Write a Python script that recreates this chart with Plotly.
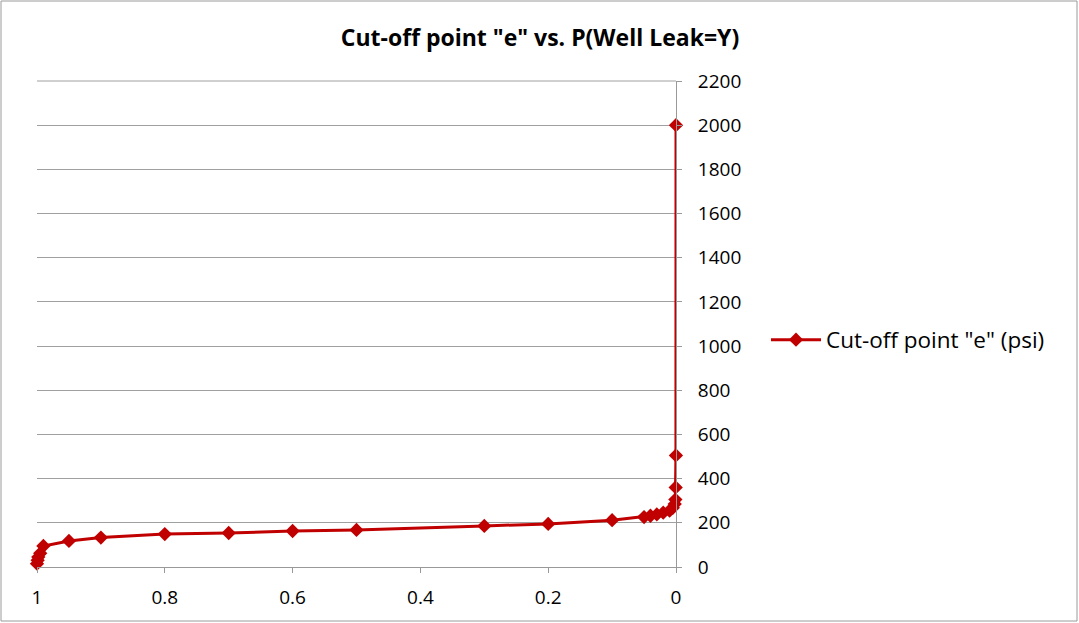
import plotly.graph_objects as go

p_leak = [1.0, 0.999, 0.998, 0.995, 0.99, 0.95, 0.9, 0.8, 0.7, 0.6, 0.5, 0.3, 0.2, 0.1,
          0.05, 0.04, 0.03, 0.02, 0.01, 0.005, 0.002, 0.001, 0.0005, 0.0001, 0.0]
cutoff_e = [15, 30, 45, 62, 95, 118, 133, 149, 154, 163, 168, 186, 195, 212,
            226, 232, 238, 246, 255, 268, 285, 305, 360, 505, 2000]

x_ticks = [1, 0.8, 0.6, 0.4, 0.2, 0]
x_labels = ["1", "0.8", "0.6", "0.4", "0.2", "0"]
y_ticks = list(range(0, 2201, 200))

red = "#C00000"
font_family = "Open Sans, Liberation Sans, sans-serif"

fig = go.Figure()
fig.add_trace(go.Scatter(
    x=p_leak, y=cutoff_e, mode="lines+markers",
    name='Cut-off point "e" (psi)',
    line=dict(color=red, width=3),
    marker=dict(symbol="diamond", size=11, color=red),
    cliponaxis=False,
))

L, R, T, B = 37, 403, 81, 56
W, H = 1079, 623
pw, ph = W - L - R, H - T - B

fig.update_layout(
    width=W, height=H,
    margin=dict(l=L, r=R, t=T, b=B),
    paper_bgcolor="white", plot_bgcolor="white",
    font=dict(family=font_family, size=19, color="#404040"),
    title=dict(text='<b>Cut-off point "e" vs. P(Well Leak=Y)</b>',
               x=540 / W, xanchor="center", y=1 - 38 / H, yanchor="middle",
               font=dict(size=23, color="#000000")),
    showlegend=True,
    legend=dict(x=(766 - L) / pw, xanchor="left", y=(H - B - 340) / ph, yanchor="middle",
                font=dict(size=22.5, color="#000000"), bgcolor="rgba(0,0,0,0)",
                itemwidth=50),
    xaxis=dict(range=[1.0, 0.0], autorange=False, tickvals=x_ticks, ticktext=x_labels,
               showgrid=False, zeroline=False, showline=True, linecolor="#999999", linewidth=1,
               ticks="outside", ticklen=5, tickcolor="#999999",
               ticklabelstandoff=8,
               tickfont=dict(size=19, color="#000000")),
    yaxis=dict(range=[0, 2200], autorange=False, tickvals=y_ticks, side="right",
               showgrid=True, gridcolor="#A0A0A0", gridwidth=1, zeroline=False,
               showline=True, linecolor="#999999", linewidth=1,
               ticks="outside", ticklen=5, tickcolor="#999999",
               ticklabelstandoff=12,
               tickfont=dict(size=19, color="#000000")),
)

# top gridline at the edge of the range
fig.add_shape(type="line", xref="paper", yref="paper", x0=0, x1=1, y0=1, y1=1,
              line=dict(color="#A0A0A0", width=1), layer="below")

fig.add_shape(type="rect", xref="paper", yref="paper",
              x0=(1 - L) / pw, x1=(W - 2 - L) / pw,
              y0=(H - B - (H - 2)) / ph, y1=(H - B - 1) / ph,
              line=dict(color="#9A9A9A", width=1), layer="below")

fig.write_html("out.html", config={"displayModeBar": False},
               post_script="document.body.style.margin='0';")
